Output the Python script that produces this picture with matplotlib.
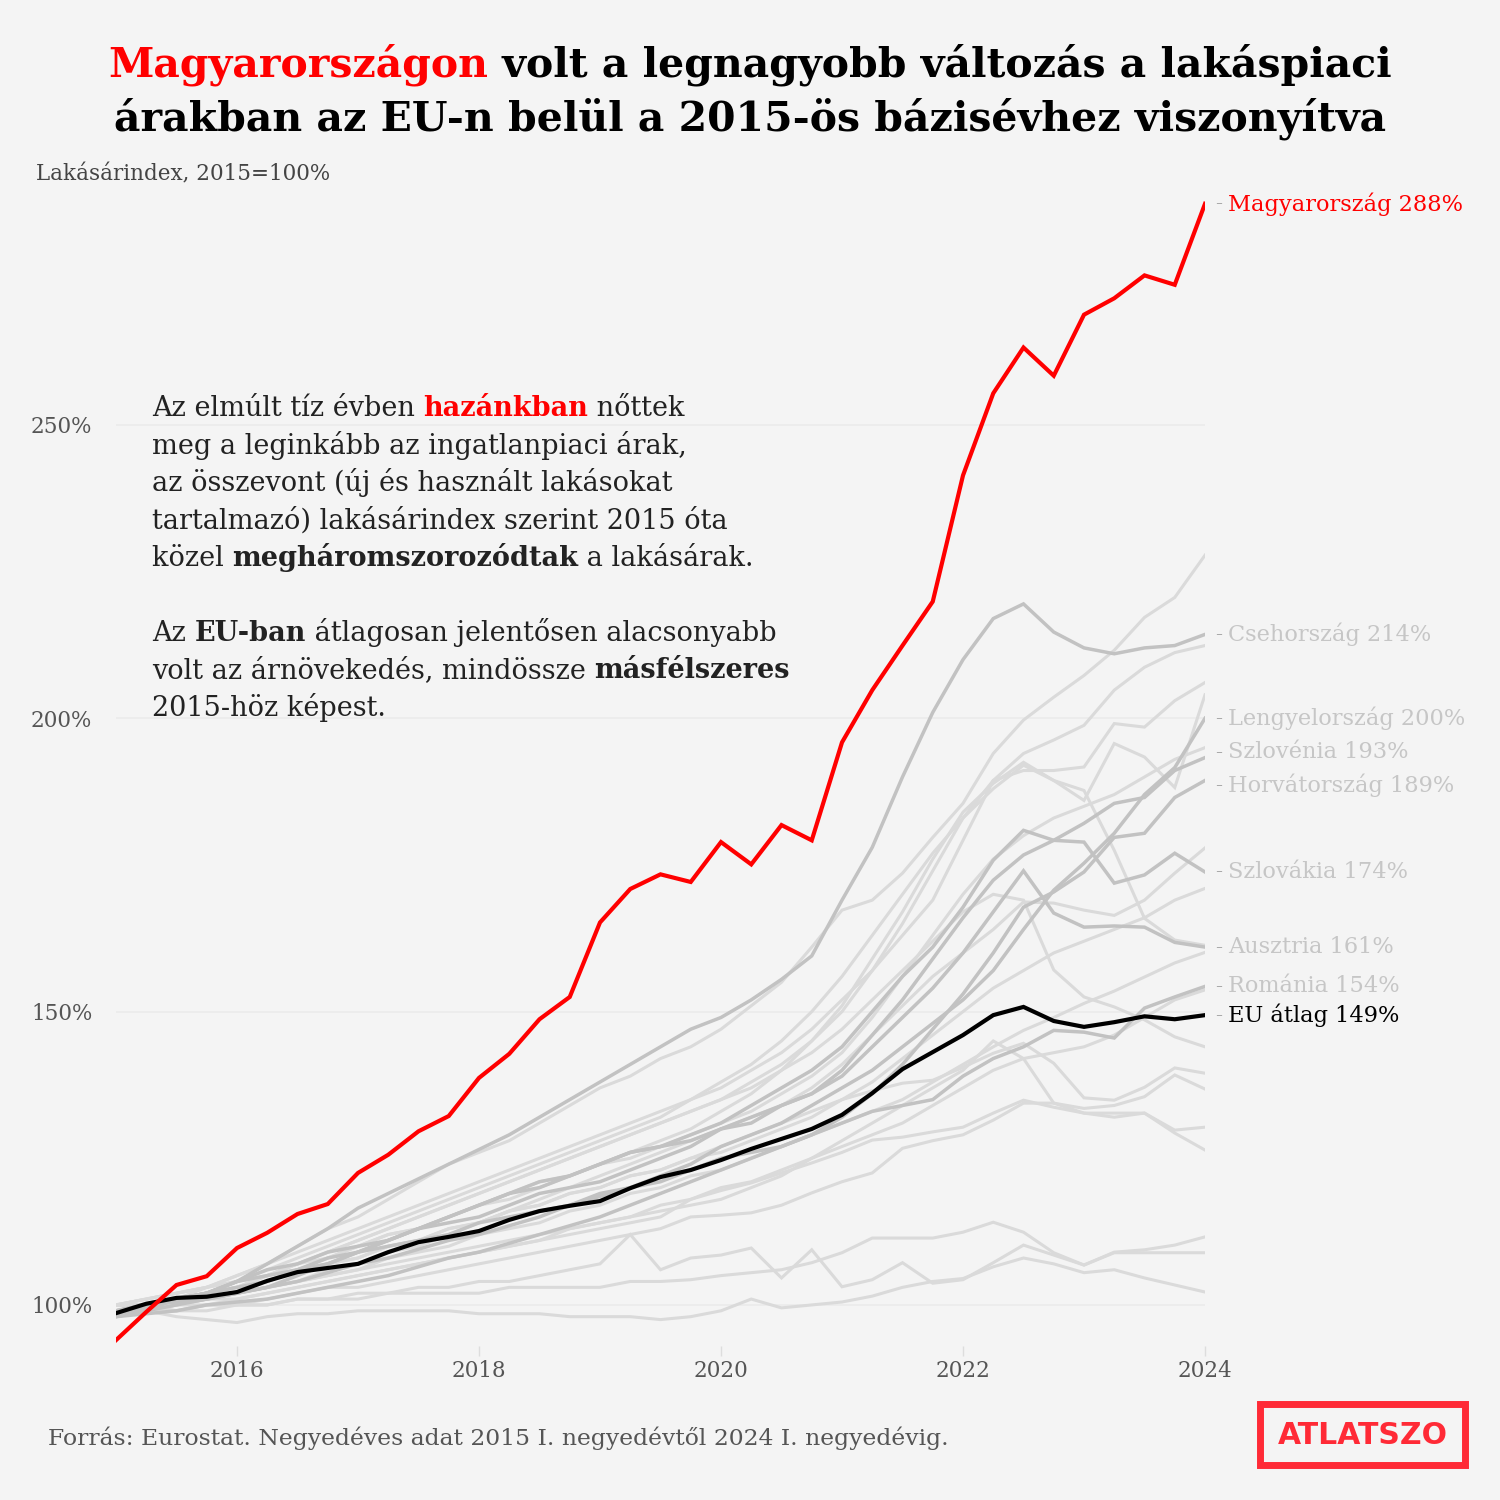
import matplotlib
matplotlib.use("Agg")
import matplotlib.pyplot as plt
import pandas as pd
from matplotlib.patches import Rectangle

# ---------------- data ----------------
quarters = pd.period_range("2015Q1", "2024Q1", freq="Q")

hungary = [94.0, 98.8, 103.4, 104.9, 109.7, 112.3, 115.5, 117.2, 122.5, 125.6, 129.6, 132.2,
           138.7, 142.8, 148.7, 152.5, 165.2, 170.9, 173.4, 172.1, 178.9, 175.1, 181.8, 179.2,
           195.9, 204.8, 212.4, 219.9, 241.4, 255.4, 263.2, 258.4, 268.8, 271.6, 275.5, 273.9, 287.7]
eu_avg = [98.6, 100.2, 101.2, 101.4, 102.2, 104.1, 105.6, 106.3, 107.0, 109.0, 110.7, 111.6,
          112.6, 114.5, 116.0, 116.9, 117.7, 119.9, 121.8, 123.0, 124.7, 126.6, 128.3, 130.0,
          132.4, 136.1, 140.2, 143.1, 146.0, 149.4, 150.8, 148.4, 147.4, 148.2, 149.2, 148.7, 149.4]

# labelled countries (darker grey)
czechia = [98.5, 99.5, 101, 102, 104, 107, 110, 113, 116.5, 119, 121.5, 124, 126.5, 129, 132, 135,
           138, 141, 144, 147, 149, 152, 155.5, 159.5, 169, 178, 190, 201, 210, 217, 219.5, 214.7,
           212, 211, 212, 212.4, 214.3]
poland = [99, 100, 100.5, 101, 102, 103, 104, 105.5, 107, 108, 109.5, 111, 112, 113.5, 115, 117,
          118.5, 120, 122, 124, 127, 129, 131, 134, 137, 140, 144, 148, 152, 157, 164, 170.7,
          175.3, 180.4, 187, 191.6, 200]
slovenia = [99, 99, 100, 101, 102, 103, 105, 107, 109, 111, 113, 115, 117, 119, 120, 122, 124, 126,
            127, 128, 130, 132, 134, 136, 140, 146, 152, 159, 166, 172.4, 176.7, 179.2, 182.1,
            185.5, 186.5, 191.1, 193.3]
croatia = [98, 98.5, 99, 100, 100.5, 101, 102, 103, 104, 105, 106.5, 108, 109, 110.5, 112, 113.5,
           115, 117, 119, 121, 123, 125, 127, 129, 132, 136, 141, 147, 153, 160, 167.8, 170.4,
           173.8, 179.7, 180.4, 186.5, 189.4]
slovakia = [99, 100, 101, 102, 103, 104, 106, 108, 109, 111, 113, 115, 117, 119, 121, 122, 124, 126,
            127, 129, 131, 134, 137, 140, 144, 150, 156, 161, 167.8, 175.8, 180.9, 179.2, 178.9,
            171.9, 173.3, 177, 173.8]
austria = [98, 99, 101, 102, 104, 106, 107, 109, 110, 111, 113, 114, 115, 117, 119, 120, 121, 123,
           125, 127, 130, 131, 134, 136, 139, 144, 149, 154, 160, 167, 174, 166.8, 164.4, 164.6,
           164.4, 161.8, 161]
romania = [99, 100, 101, 102, 104, 105, 106, 107, 109, 110, 111, 112, 114, 115, 116, 117, 119, 120,
           121, 123, 125, 126, 127, 129, 131, 133, 134, 135, 139, 142, 144, 146.8, 146.5, 145.5,
           150.6, 152.5, 154.3]

# other EU countries (light grey, unlabelled)
other_1 = [99, 100, 101, 103, 105, 107, 110, 113, 115, 118, 121, 124, 126, 128, 131, 134, 137, 139,
           142, 144, 147, 151, 155, 161, 167.3, 169, 173.6, 179.7, 185.5, 194, 199.7, 203.6, 207.3,
           211.6, 217.2, 220.6, 227.8]
other_2 = [100, 101, 102, 103, 104, 106, 108, 110, 112, 114, 116, 118, 120, 122, 124, 126, 128, 130,
           132, 135, 137, 140, 143, 147, 152, 157, 163, 169, 179.2, 189.4, 194, 196.3, 198.8, 204.8,
           208.7, 211.2, 212.4]
other_3 = [99, 100, 101, 102, 103, 105, 107, 109, 111, 113, 115, 117, 119, 121, 123, 125, 127, 129,
           131, 133, 135, 138, 141, 145, 150, 157, 165, 174, 183, 189.4, 191.1, 191.1, 191.7, 199.1,
           198.5, 203, 206.1]
other_4 = [100, 100, 101, 102, 104, 105, 106, 108, 110, 112, 113, 115, 117, 119, 121, 122, 124, 126,
           128, 130, 133, 136, 140, 145, 151, 159, 167, 176, 184, 188.9, 192.5, 189.4, 186, 195.7,
           193.4, 188.2, 204]
other_5 = [98, 99, 100, 101, 102, 103, 104, 106, 107, 109, 110, 112, 114, 116, 118, 120, 122, 124,
           126, 128, 130, 132, 134, 137, 141, 146, 151, 156, 160, 164, 168.7, 168.5, 167.3, 166.4,
           169, 173.6, 177.9]
other_6 = [100, 101, 102, 103, 105, 107, 109, 111, 113, 115, 117, 119, 121, 123, 125, 127, 129, 131,
           133, 135, 138, 141, 145, 150, 156, 163, 170, 177, 183, 188, 192, 189.4, 187.7, 177.5,
           165.9, 162.2, 161.3]
other_7 = [99, 100, 101, 102, 103, 105, 107, 109, 111, 113, 115, 117, 119, 121, 123, 125, 127, 129,
           131, 133, 135, 137, 140, 143, 147, 152, 157, 162, 167, 170, 169, 157.1, 152.5, 150.8,
           148.6, 145.7, 144]
other_8 = [99, 99, 100, 101, 102, 103, 104, 105, 106, 108, 109, 110, 112, 113, 114, 116, 117, 119,
           120, 122, 123, 125, 127, 129, 131, 133, 135, 138, 141, 144, 146.8, 149, 151.4, 153.5,
           155.9, 158.3, 160.1]
other_9 = [98, 99, 100, 101, 101, 102, 103, 104, 105, 106, 107, 108, 109, 110, 111, 113, 114, 115,
           117, 118, 120, 121, 123, 125, 127, 129, 131, 134, 137, 140, 142, 143, 144, 146, 149, 152,
           153.7]
other_10 = [100, 100, 101, 102, 103, 104, 106, 107, 108, 110, 111, 113, 114, 116, 117, 119, 120, 122,
            123, 125, 127, 129, 131, 133, 135, 136.5, 137.8, 138.3, 140.5, 142.9, 144.6, 141.2,
            135.3, 134.9, 137.1, 140.4, 139.5]
other_11 = [99, 100, 101, 101, 102, 103, 104, 105, 106, 107, 108, 109, 110, 111, 112, 113, 114, 115,
            116, 117, 118, 120, 122, 125, 128, 131, 134, 137, 140, 145, 142, 134.4, 133.5, 134,
            135.5, 139.2, 136.8]
other_12 = [99, 99, 100, 100, 101, 102, 103, 104, 105, 106, 107, 108, 109, 110, 111, 112, 113, 114,
            115, 118, 119.5, 120.8, 122.5, 124.2, 126, 128.1, 128.6, 129.5, 130.3, 132.7, 134.9,
            133.7, 132.7, 132, 132.7, 129.8, 130.3]
other_13 = [98, 99, 99, 100, 100, 101, 102, 103, 103, 104, 105, 106, 107, 108, 109, 110, 111, 112,
            113, 115, 115.3, 115.7, 117, 119.1, 121, 122.5, 126.7, 128, 129, 131.5, 134.4, 134.4,
            132.7, 132.7, 132.7, 129.3, 126.4]
other_14 = [100, 100, 99, 99, 100, 100, 101, 101, 102, 102, 103, 103, 104, 104, 105, 106, 107, 112,
            106, 108, 108.5, 109.7, 104.6, 109.4, 103.1, 104.3, 107.2, 103.7, 104.3, 107.2, 110.2,
            108.5, 106.8, 108.9, 108.9, 108.9, 108.9]
other_15 = [99, 99, 99, 100, 100, 100, 101, 101, 101, 102, 102, 102, 102, 103, 103, 103, 103, 104,
            104, 104.3, 105, 105.5, 106, 107.2, 108.9, 111.4, 111.4, 111.4, 112.4, 114.1, 112.4,
            108.9, 106.8, 109, 109.4, 110.2, 111.6]
other_16 = [100, 99, 98, 97.5, 97, 98, 98.5, 98.5, 99, 99, 99, 99, 98.5, 98.5, 98.5, 98, 98, 98,
            97.5, 98, 99, 101, 99.5, 100, 100.5, 101.5, 103, 104, 104.5, 106.5, 108, 107, 105.5,
            106, 104.6, 103.4, 102.2]
other_17 = [100, 101, 102, 103, 104, 105, 107, 108, 110, 112, 113, 115, 117, 118, 120, 122, 124, 125,
            127, 129, 131, 133, 136, 139, 143, 149, 156, 163, 170, 176, 180, 183, 185, 187, 190, 193,
            195]
other_18 = [99, 100, 101, 102, 103, 104, 106, 107, 108, 110, 111, 113, 114, 116, 117, 119, 120, 122,
            123, 125, 126, 128, 130, 132, 135, 138, 142, 146, 150, 154, 157, 160, 162, 164, 166, 169,
            171]

labelled = {"Csehország": czechia, "Lengyelország": poland, "Szlovénia": slovenia,
            "Horvátország": croatia, "Szlovákia": slovakia, "Ausztria": austria, "Románia": romania}
others = [other_1, other_2, other_3, other_4, other_5, other_6, other_7, other_8, other_9,
          other_10, other_11, other_12, other_13, other_14, other_15, other_16, other_17, other_18]

y_ticks = [100, 150, 200, 250]
x_ticks = [2016, 2018, 2020, 2022, 2024]

# ---------------- style ----------------
BG = "#f4f4f4"
SERIF = ["DejaVu Serif"]
RED = "#ff0000"
DARK_GREY = "#c2c2c2"
LIGHT_GREY = "#dadada"
LABEL_GREY = "#c6c6c6"

W = H = 1500
fig = plt.figure(figsize=(15, 15), dpi=100, facecolor=BG)
renderer = fig.canvas.get_renderer()

def fx(px):
    return px / W

def fy(py):
    return 1 - py / H

ax_left, ax_right = 116, 1205
ax_top_px, ax_bot_px = 161, 1346
ax = fig.add_axes([fx(ax_left), fy(ax_bot_px), (ax_right - ax_left) / W, (ax_bot_px - ax_top_px) / H])
ax.set_facecolor(BG)
for s in ax.spines.values():
    s.set_visible(False)

xs = [p.year + (p.quarter - 1) / 4 for p in quarters]

for series in others:
    ax.plot(xs, series, color=LIGHT_GREY, lw=2.2, zorder=2, solid_joinstyle="miter")
for name, series in labelled.items():
    ax.plot(xs, series, color=DARK_GREY, lw=2.5, zorder=3, solid_joinstyle="miter")
ax.plot(xs, eu_avg, color="black", lw=3.0, zorder=5, solid_joinstyle="miter")
ax.plot(xs, hungary, color=RED, lw=3.0, zorder=6, solid_joinstyle="miter")

ax.set_xlim(2015, 2024)
ax.set_ylim(93, 295)
ax.set_yticks(y_ticks)
ax.set_yticklabels([f"{v}%" for v in y_ticks], family=SERIF, fontsize=15.5, color="#555555")
ax.set_xticks(x_ticks)
ax.set_xticklabels([str(v) for v in x_ticks], family=SERIF, fontsize=15.5, color="#555555")
ax.tick_params(axis="y", length=0, pad=17)
ax.tick_params(axis="x", length=7, width=1, color="#dddddd", pad=3)
ax.grid(axis="y", color="#ebebeb", lw=1.2, zorder=0)
ax.set_axisbelow(True)

# ---------------- end labels ----------------
def y_to_px(v):
    return ax.transData.transform((2024, v))[1]

label_nudge = {"Szlovénia": 0.9, "Horvátország": -0.8}
LX = 1228
for name, series in labelled.items():
    v = series[-1] + label_nudge.get(name, 0)
    ypx = H - y_to_px(v)
    fig.text(fx(1215), fy(ypx), "-", family=SERIF, fontsize=15, color="#aaaaaa", va="center")
    fig.text(fx(LX), fy(ypx), f"{name} {round(series[-1])}%", family=SERIF, fontsize=16.2,
             color=LABEL_GREY, va="center")
for name, series, col in [("Magyarország", hungary, RED), ("EU átlag", eu_avg, "black")]:
    ypx = H - y_to_px(series[-1])
    fig.text(fx(1215), fy(ypx), "-", family=SERIF, fontsize=15, color="#aaaaaa", va="center")
    fig.text(fx(LX), fy(ypx), f"{name} {round(series[-1])}%", family=SERIF, fontsize=16.2,
             color=col, va="center")

# ---------------- rich text helper ----------------
def measure(s, size, weight):
    t = fig.text(0, 0, s, family=SERIF, fontsize=size, weight=weight)
    w = t.get_window_extent(renderer).width
    t.remove()
    return w

def rich(x_px, base_px, segs, size, center=False):
    total = sum(measure(s, size, w) for s, c, w in segs)
    x = x_px - total / 2 if center else x_px
    for s, c, w in segs:
        fig.text(fx(x), fy(base_px), s, family=SERIF, fontsize=size, weight=w, color=c,
                 va="baseline", ha="left")
        x += measure(s, size, w)

# title (fit to width)
title1 = [("Magyarországon", RED, "bold"), (" volt a legnagyobb változás a lakáspiaci", "black", "bold")]
title2 = [("árakban az EU-n belül a 2015-ös bázisévhez viszonyítva", "black", "bold")]
w30 = sum(measure(s, 30, w) for s, c, w in title1)
tsize = 30 * 1286 / w30
rich(750, 77, title1, tsize, center=True)
rich(750, 130, title2, tsize, center=True)

fig.text(fx(36), fy(180), "Lakásárindex, 2015=100%", family=SERIF, fontsize=15.5,
         color="#444444", va="baseline")

# annotation
AC = "#222222"
para = [
    [("Az elmúlt tíz évben ", AC, "normal"), ("hazánkban", RED, "bold"), (" nőttek", AC, "normal")],
    [("meg a leginkább az ingatlanpiaci árak,", AC, "normal")],
    [("az összevont (új és használt lakásokat", AC, "normal")],
    [("tartalmazó) lakásárindex szerint 2015 óta", AC, "normal")],
    [("közel ", AC, "normal"), ("megháromszorozódtak", AC, "bold"), (" a lakásárak.", AC, "normal")],
    None,
    [("Az ", AC, "normal"), ("EU-ban", AC, "bold"), (" átlagosan jelentősen alacsonyabb", AC, "normal")],
    [("volt az árnövekedés, mindössze ", AC, "normal"), ("másfélszeres", AC, "bold")],
    [("2015-höz képest.", AC, "normal")],
]
ref_w = sum(measure(s, 20, w) for s, c, w in para[4])
asize = 20 * 601 / ref_w
base = 416
for line in para:
    if line is not None:
        rich(152, base, line, asize)
    base += 37.5

# footer
fig.text(fx(48), fy(1445), "Forrás: Eurostat. Negyedéves adat 2015 I. negyedévtől 2024 I. negyedévig.",
         family=SERIF, fontsize=16.9, color="#555555", va="baseline")

# logo
LOGO_RED = "#ff2a36"
fig.patches.append(Rectangle((fx(1260), fy(1465)), fx(1465 - 1260), (1465 - 1404) / H,
                             transform=fig.transFigure, fill=False, edgecolor=LOGO_RED, lw=5))
fig.text(fx(1363), fy(1435), "ATLATSZO", family=["DejaVu Sans"], weight="heavy", fontsize=21.5,
         color=LOGO_RED, ha="center", va="center")

fig.savefig("out.png", dpi=100, facecolor=BG)
